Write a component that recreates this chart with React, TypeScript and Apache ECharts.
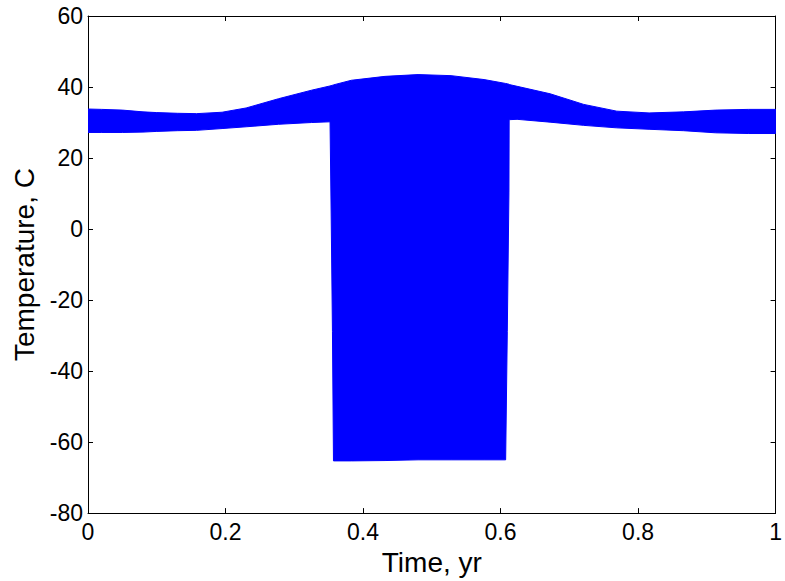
import React, { useEffect, useRef } from "react";
import * as echarts from "echarts";

// Envelope of the daily temperature oscillation
const timeYr = [
  0, 0.02, 0.05, 0.08, 0.1, 0.13, 0.158, 0.195, 0.23, 0.277, 0.325, 0.352, 0.3536,
  0.3555, 0.357, 0.383, 0.432, 0.48, 0.528, 0.576, 0.6074, 0.6098, 0.6122, 0.6125,
  0.624, 0.672, 0.721, 0.769, 0.816, 0.866, 0.913, 0.961, 1.0,
];
const upperTemp = [
  33.8, 33.7, 33.5, 33.0, 32.8, 32.6, 32.5, 32.9, 34.1, 36.7, 39.1, 40.3, 40.4,
  40.5, 40.6, 41.9, 43.0, 43.5, 43.2, 42.1, 41.0, 40.9, 40.8, 40.7,
  40.2, 38.1, 35.1, 33.2, 32.7, 33.0, 33.5, 33.7, 33.7,
];
const lowerTemp = [
  27.2, 27.2, 27.2, 27.3, 27.5, 27.7, 27.8, 28.3, 28.8, 29.5, 30.0, 30.2, 4.8,
  -28.8, -65.3, -65.3, -65.2, -65.0, -65.0, -65.0, -65.0, -28.8, 10.4, 30.8,
  30.9, 30.1, 29.2, 28.5, 28.1, 27.7, 27.1, 26.9, 26.9,
];
const xTicks = [0, 0.2, 0.4, 0.6, 0.8, 1];
const yTicks = [-80, -60, -40, -20, 0, 20, 40, 60];

const FONT = "'Liberation Sans', Arial, Helvetica, sans-serif";

export default function App() {
  const ref = useRef<HTMLDivElement>(null);
  useEffect(() => {
    if (!ref.current) return;
    const chart = echarts.init(ref.current, null, { renderer: "svg" });
    const bandData = timeYr.map((t, i) => [t, upperTemp[i], lowerTemp[i]]);
    const axisCommon = {
      axisLine: { show: true, onZero: false, lineStyle: { color: "#000", width: 1 } },
      axisTick: { show: true, inside: true, length: 5, lineStyle: { color: "#000" } },
      splitLine: { show: false },
    };
    chart.setOption({
      animation: false,
      backgroundColor: "#fff",
      grid: { left: 88, right: 5, top: 16, bottom: 65, containLabel: false },
      xAxis: [
        {
          type: "value",
          min: xTicks[0],
          max: xTicks[xTicks.length - 1],
          interval: 0.2,
          name: "Time, yr",
          nameLocation: "middle",
          nameGap: 32,
          nameTextStyle: { fontFamily: FONT, fontSize: 28, color: "#000" },
          axisLabel: { fontFamily: FONT, fontSize: 23, color: "#000", margin: 7 },
          ...axisCommon,
        },
        {
          type: "value",
          position: "top",
          min: xTicks[0],
          max: xTicks[xTicks.length - 1],
          interval: 0.2,
          axisLabel: { show: false },
          ...axisCommon,
        },
      ],
      yAxis: [
        {
          type: "value",
          min: yTicks[0],
          max: yTicks[yTicks.length - 1],
          interval: 20,
          name: "Temperature, C",
          nameLocation: "middle",
          nameGap: 50,
          nameTextStyle: { fontFamily: FONT, fontSize: 28, color: "#000" },
          axisLabel: { fontFamily: FONT, fontSize: 23, color: "#000", margin: 5 },
          ...axisCommon,
        },
        {
          type: "value",
          position: "right",
          min: yTicks[0],
          max: yTicks[yTicks.length - 1],
          interval: 20,
          axisLabel: { show: false },
          ...axisCommon,
        },
      ],
      series: [
        {
          type: "custom",
          xAxisIndex: 0,
          yAxisIndex: 0,
          data: [0],
          clip: true,
          renderItem: (params: any, api: any) => {
            if (params.dataIndex !== 0) return null;
            const top = bandData.map((d) => api.coord([d[0], d[1]]));
            const bottom = bandData.map((d) => api.coord([d[0], d[2]])).reverse();
            return {
              type: "polygon",
              shape: { points: top.concat(bottom) },
              style: { fill: "#0000ff", stroke: "#0000ff", lineWidth: 1 },
            };
          },
        },
      ],
    });
    return () => chart.dispose();
  }, []);
  return (
    <div
      ref={ref}
      style={{ position: "fixed", left: 0, top: 0, width: 785, height: 581 }}
    />
  );
}
